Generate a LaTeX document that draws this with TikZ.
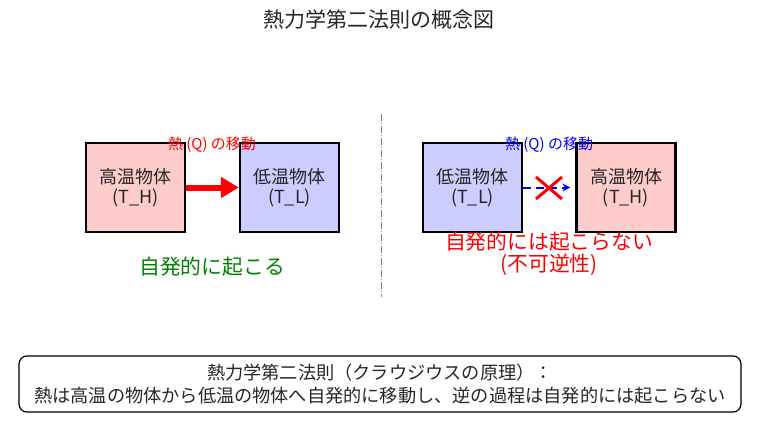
\documentclass[tikz,border=0pt]{standalone}
\usepackage{fontspec}
\setmainfont{Noto Sans CJK JP}
\usetikzlibrary{arrows.meta,shapes.misc}

\begin{document}
\begin{tikzpicture}[x=1pt,y=-1pt,
   body/.style={draw=black,line width=2.2pt,minimum width=99pt,minimum height=89pt,
                align=center,font=\fontsize{18}{19.5}\selectfont,text=black!85},
   hot/.style={body,fill={rgb,255:red,255;green,204;blue,204}},
   cold/.style={body,fill={rgb,255:red,204;green,204;blue,255}},
   qlabel/.style={font=\fontsize{15}{16}\selectfont},
   verdict/.style={font=\fontsize{20.8}{22}\selectfont,align=center},
   ]
   \useasboundingbox (0,0) rectangle (758,434);
   \node[font=\fontsize{21}{24}\selectfont,text=black!85] (title) at (379,20) {熱力学第二法則の概念図};
   % spontaneous side
   \node[hot]  (hotA)  at (135.5,187.5) {高温物体\\(T\_H)};
   \node[cold] (coldA) at (289.5,187.5) {低温物体\\(T\_L)};
   \draw[red,line width=6pt,-{Triangle[length=18pt,width=20pt]}] (hotA.east) -- (coldA.west);
   \node[qlabel,red] (flowA) at (212,145) {熱 (Q) の移動};
   \node[verdict,green!50!black] (yesA) at (212,267) {自発的に起こる};
   % divider
   \coordinate (divtop) at (381.5,114);
   \coordinate (divbot) at (381.5,297);
   \draw[gray,line width=0.8pt,dash pattern=on 7pt off 2pt on 1pt off 2pt] (divtop) -- (divbot);
   % reverse side
   \node[cold] (coldB) at (472.5,187.5) {低温物体\\(T\_L)};
   \node[hot]  (hotB)  at (626,187.5) {高温物体\\(T\_H)};
   \draw[blue,line width=2pt,dash pattern=on 8pt off 5pt,shorten >=5pt,
         -{Stealth[length=8pt,width=8pt]}] (coldB.east) -- (hotB.west);
   \node[cross out,draw=red,line width=3pt,minimum width=23pt,minimum height=19pt,inner sep=0pt]
        (nogo) at (549,188) {};
   \node[qlabel,blue] (flowB) at (549,145) {熱 (Q) の移動};
   \node[verdict,red] (noB) at (549,254) {自発的には起こらない\\(不可逆性)};
   % statement
   \node[draw=black,line width=1.2pt,rounded corners=8pt,minimum width=722pt,minimum height=56pt,
         align=center,font=\fontsize{18.2}{23}\selectfont,text=black!85] (law) at (380,384)
         {熱力学第二法則（クラウジウスの原理）：\\熱は高温の物体から低温の物体へ自発的に移動し、逆の過程は自発的には起こらない};
\end{tikzpicture}
\end{document}
